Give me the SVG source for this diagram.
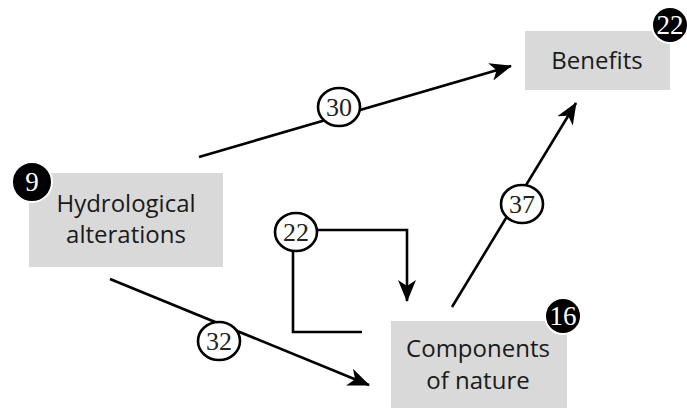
<svg xmlns="http://www.w3.org/2000/svg" width="687" height="408" viewBox="0 0 687 408">
<style>
.box{fill:#d9d9d9}
.lbl{font-family:"Open Sans","Noto Sans",sans-serif;font-size:24px;fill:#1a1a1a;text-anchor:middle}
.badge{fill:#000;stroke:#fff;stroke-width:2}
.bnum{font-family:"Liberation Serif",serif;font-size:27px;fill:#fff;text-anchor:middle}
.edge{fill:none;stroke:#000;stroke-width:2.6}
.ec{fill:#fff;stroke:#000;stroke-width:2.6}
.enum{font-family:"Liberation Serif",serif;font-size:26px;fill:#222;text-anchor:middle}
</style>
<defs>
<marker id="ah" viewBox="0 0 22 18" refX="21" refY="9" markerWidth="22" markerHeight="18" markerUnits="userSpaceOnUse" orient="auto">
<path d="M0,0 L22,9 L0,18 L6,9 Z" fill="#000"/>
</marker>
</defs>
<g id="connectors">
<line class="edge" x1="199" y1="157" x2="511" y2="66" marker-end="url(#ah)"/>
<line class="edge" x1="110" y1="279" x2="369" y2="385" marker-end="url(#ah)"/>
<line class="edge" x1="452" y1="307" x2="576" y2="103" marker-end="url(#ah)"/>
<polyline class="edge" points="316,230 407,230 407,301" marker-end="url(#ah)"/>
<polyline class="edge" points="293,252 293,332 362,332"/>
<g id="e30"><ellipse class="ec" cx="339" cy="107" rx="21" ry="19"/><text class="enum" x="339" y="116">30</text></g>
<g id="e32"><ellipse class="ec" cx="219" cy="341" rx="21" ry="19"/><text class="enum" x="219" y="350">32</text></g>
<g id="e37"><ellipse class="ec" cx="522" cy="204" rx="21" ry="19"/><text class="enum" x="522" y="213">37</text></g>
<g id="e22"><ellipse class="ec" cx="296" cy="232" rx="21" ry="19"/><text class="enum" x="296" y="241">22</text></g>
</g>
<g id="hydro">
<rect class="box" x="29" y="173" width="194" height="94"/>
<text class="lbl" x="126" y="212">Hydrological</text>
<text class="lbl" x="126" y="243">alterations</text>
<circle class="badge" cx="32" cy="182" r="20"/>
<text class="bnum" x="32" y="191">9</text>
</g>
<g id="benefits">
<rect class="box" x="525" y="31" width="145" height="59"/>
<text class="lbl" x="597" y="69">Benefits</text>
<circle class="badge" cx="670" cy="25" r="18"/>
<text class="bnum" x="670" y="34">22</text>
</g>
<g id="components">
<rect class="box" x="391" y="321" width="176" height="87"/>
<text class="lbl" x="478" y="357">Components</text>
<text class="lbl" x="478" y="389">of nature</text>
<circle class="badge" cx="563" cy="316" r="18"/>
<text class="bnum" x="563" y="325">16</text>
</g>
</svg>
